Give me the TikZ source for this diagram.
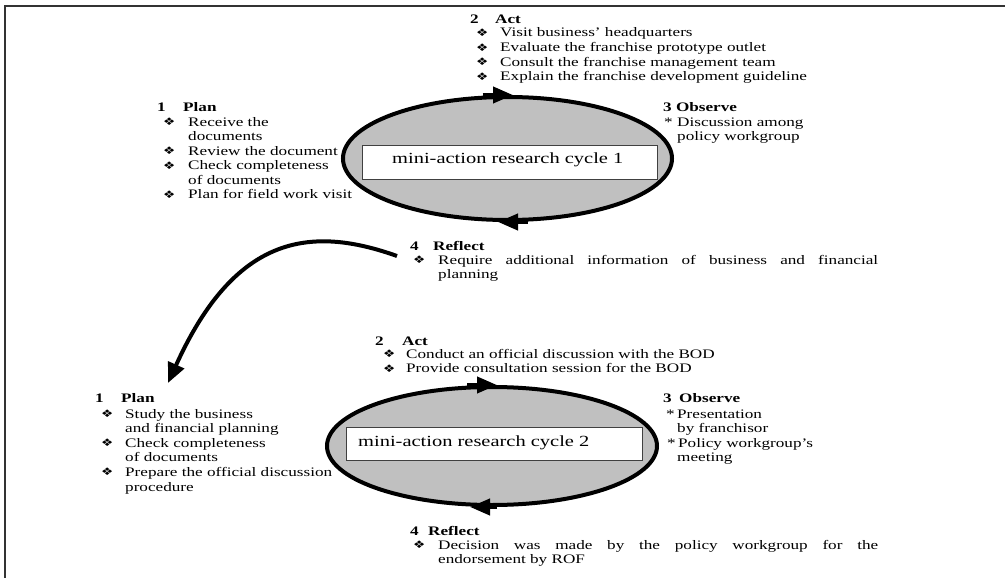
\documentclass[tikz,border=0pt]{standalone}
\usepackage{graphicx}
\usepackage{fontspec}
\setmainfont{Liberation Serif}[FakeStretch=1.32]
\newfontfamily\dejavu{DejaVu Sans}
\usetikzlibrary{arrows.meta,shapes.geometric}
\newcommand{\bul}{\raisebox{0.5pt}{\scalebox{1.3}[1]{\dejavu\fontsize{10.5}{10.5}\selectfont ❖}}}
\newcommand{\bi}{\makebox[25pt][l]{\bul}}
\newcommand{\txtsize}{\fontsize{13}{14.6}\selectfont}
\definecolor{cycfill}{RGB}{192,192,192}
\tikzset{
  txt/.style={anchor=base west, inner sep=0pt, font=\txtsize},
  hdr/.style={anchor=base west, inner sep=0pt, font=\txtsize\bfseries},
  cycle/.style={ellipse, draw=black, line width=4pt, fill=cycfill, inner sep=0pt},
  labbox/.style={draw=black!75, line width=0.8pt, fill=white, inner sep=0pt},
  lab/.style={anchor=base west, inner sep=0pt, font=\fontsize{15.5}{17}\selectfont},
  amark/.style={line width=4pt, -{Triangle[length=20pt,width=16pt]}},
  frame/.style={draw=black!80, line width=1.5pt}
}
\begin{document}
\begin{tikzpicture}[x=1pt,y=-1pt]
\useasboundingbox (0,0) rectangle (1005,578);
\draw[frame] (5,578) -- (5,6) -- (1005,6);

% cycle 1
\node[cycle, minimum width=329pt, minimum height=123pt] (e1) at (507.5,158.5) {};
\node[labbox, minimum width=295pt, minimum height=34pt] (box1) at (509.5,162) {};
\node[lab] (lab1) at (392,164) {mini-action research cycle 1};
\draw[amark] ([xshift=-25pt]e1.north) -- ([xshift=5.5pt]e1.north);
\draw[amark] ([xshift=20pt]e1.south) -- ([xshift=-9.5pt]e1.south);

% cycle 2
\node[cycle, minimum width=330pt, minimum height=118pt] (e2) at (492,446) {};
\node[labbox, minimum width=296pt, minimum height=33pt] (box2) at (494,443.5) {};
\node[lab] (lab2) at (358,446) {mini-action research cycle 2};
\draw[amark] ([xshift=-25pt]e2.north) -- ([xshift=5pt]e2.north);
\draw[amark] ([xshift=5pt]e2.south) -- ([xshift=-22pt]e2.south);

% top texts
\node[hdr] (act1h) at (470,24) {\makebox[25pt][l]{2}Act};
\node[txt] (act1l) at (476,37) {\begin{tabular}[t]{@{}l@{}l@{}}
\makebox[24pt][l]{\bul} & Visit business’ headquarters\\
\makebox[24pt][l]{\bul} & Evaluate the franchise prototype outlet\\
\makebox[24pt][l]{\bul} & Consult the franchise management team\\
\makebox[24pt][l]{\bul} & Explain the franchise development guideline
\end{tabular}};

\node[hdr] (plan1h) at (157,111) {\makebox[26pt][l]{1}Plan};
\node[txt] (plan1l) at (163,126) {\begin{tabular}[t]{@{}l@{}l@{}}
\bi & Receive the\\
 & documents\\
\bi & Review the document\\
\bi & Check completeness\\
 & of documents\\
\bi & Plan for field work visit
\end{tabular}};

\node[hdr] (obs1h) at (663,111) {3 Observe};
\node[txt] (obs1l) at (664,126) {\begin{tabular}[t]{@{}l@{}l@{}}
\makebox[13pt][l]{*} & Discussion among\\
 & policy workgroup
\end{tabular}};

\node[hdr] (ref1h) at (410,250) {\makebox[23pt][l]{4}Reflect};
\node[txt] (ref1l) at (413,264) {\begin{tabular}[t]{@{}l@{}l@{}}
\bi & \makebox[440pt][s]{Require additional information of business and financial}\\
 & planning
\end{tabular}};

% bottom texts
\node[hdr] (act2h) at (375,345) {\makebox[27pt][l]{2}Act};
\node[txt] (act2l) at (383,358) {\begin{tabular}[t]{@{}l@{}l@{}}
\makebox[23pt][l]{\bul} & Conduct an official discussion with the BOD\\
\makebox[23pt][l]{\bul} & Provide consultation session for the BOD
\end{tabular}};

\node[hdr] (plan2h) at (95,402) {\makebox[26pt][l]{1}Plan};
\node[txt] (plan2l) at (101,418) {\begin{tabular}[t]{@{}l@{}l@{}}
\makebox[24pt][l]{\bul} & Study the business\\
 & and financial planning\\
\makebox[24pt][l]{\bul} & Check completeness\\
 & of documents\\
\makebox[24pt][l]{\bul} & Prepare the official discussion\\
 & procedure
\end{tabular}};

\node[hdr] (obs2h) at (663,402) {\makebox[16pt][l]{3}Observe};
\node[txt] (obs2l) at (666,418) {\begin{tabular}[t]{@{}l@{}l@{}}
\makebox[11pt][l]{*} & Presentation\\
 & by franchisor\\
\makebox[11pt][l]{\hspace{1pt}*} & \hspace{1pt}Policy workgroup’s\\
 & meeting
\end{tabular}};

\node[hdr] (ref2h) at (410,535) {\makebox[18pt][l]{4}Reflect};
\node[txt] (ref2l) at (413,549) {\begin{tabular}[t]{@{}l@{}l@{}}
\bi & \makebox[440pt][s]{Decision was made by the policy workgroup for the}\\
 & endorsement by ROF
\end{tabular}};

% link from cycle 1 reflection to cycle 2 plan
\coordinate (cs) at (397,256);
\coordinate (ce) at (168,383);
\draw[line width=4pt, -{Triangle[length=20pt,width=17pt]}] (cs) .. controls (310,225) and (235,235) .. (ce);
\end{tikzpicture}
\end{document}
